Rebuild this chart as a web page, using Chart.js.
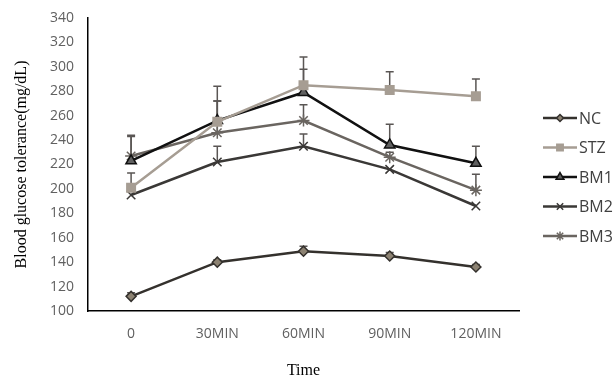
<!DOCTYPE html>
<html>
<head>
<meta charset="utf-8">
<script src="https://cdn.jsdelivr.net/npm/chart.js@4/dist/chart.umd.min.js"></script>
<style>
  html, body { margin: 0; padding: 0; background: #fff; }
  #wrap { width: 614px; height: 378px; }
</style>
</head>
<body>
<div id="wrap"><canvas id="chart" width="614" height="378"></canvas></div>
<script>
// data
var times = ["0", "30MIN", "60MIN", "90MIN", "120MIN"];
var yTicks = [100, 120, 140, 160, 180, 200, 220, 240, 260, 280, 300, 320, 340];

var nc  = [112, 140, 149, 145, 136];
var stz = [201, 255, 285, 281, 276];
var bm1 = [223, 256, 279, 236, 221];
var bm2 = [195, 222, 235, 216, 186];
var bm3 = [227, 246, 256, 226, 199];

// upward error (SD) for each point
var ncErr  = [3, 2, 4, 3, 2];
var stzErr = [12, 29, 23, 15, 14];
var bm1Err = [21, 16, 19, 17, 14];
var bm2Err = [0, 13, 10, 0, 0];
var bm3Err = [16, 26, 13, 4, 13];

function series(label, data, err, color, style, fill, radius) {
	return {
		label: label,
		data: data,
		err: err,
		borderColor: color,
		borderWidth: 2.5,
		pointStyle: style,
		pointRadius: radius,
		pointBackgroundColor: fill,
		pointBorderColor: style == 'rect' ? fill : color,
		pointBorderWidth: 1.5,
		tension: 0
	};
}

var sets = [
	series("NC", nc, ncErr, "#34312d", "rectRot", "#8c8272", 5),
	series("STZ", stz, stzErr, "#a69d93", "rect", "#a69d93", 6),
	series("BM1", bm1, bm1Err, "#111111", "triangle", "#606060", 6),
	series("BM2", bm2, bm2Err, "#3a3836", "crossRot", "#3a3836", 6),
	series("BM3", bm3, bm3Err, "#6a6560", "star", "#6a6560", 6)
];

// error bars, drawn under the markers
var errorBars = {
	id: 'errorBars',
	beforeDatasetsDraw: function(chart) {
		var ctx = chart.ctx;
		var ys = chart.scales.y;
		ctx.save();
		ctx.lineWidth = 1.5;
		ctx.strokeStyle = "#5a5654";
		chart.data.datasets.forEach(function(ds, i) {
			var meta = chart.getDatasetMeta(i);
			meta.data.forEach(function(pt, j) {
				var e = ds.err[j];
				if (!e) return;
				var top = ys.getPixelForValue(ds.data[j] + e);
				ctx.beginPath();
				ctx.moveTo(pt.x, pt.y);
				ctx.lineTo(pt.x, top);
				ctx.moveTo(pt.x - 4, top);
				ctx.lineTo(pt.x + 4, top);
				ctx.stroke();
			});
		});
		ctx.restore();
	}
};

// legend on the right: short line with the marker in the middle
var sideLegend = {
	id: 'sideLegend',
	afterDraw: function(chart) {
		var ctx = chart.ctx;
		var x0 = 543, x1 = 577, y = 118;
		ctx.save();
		chart.data.datasets.forEach(function(ds) {
			ctx.strokeStyle = ds.borderColor;
			ctx.lineWidth = 2.5;
			ctx.beginPath();
			ctx.moveTo(x0, y);
			ctx.lineTo(x1, y);
			ctx.stroke();
			ctx.fillStyle = ds.pointBackgroundColor;
			ctx.strokeStyle = ds.pointBorderColor;
			ctx.lineWidth = 1.5;
			Chart.helpers.drawPoint(ctx, {
				pointStyle: ds.pointStyle,
				radius: ds.pointRadius - 1.5,
				rotation: 0,
				borderWidth: 1.5
			}, (x0 + x1) / 2, y);
			ctx.fillStyle = "#404040";
			ctx.font = "16px 'Open Sans'";
			ctx.textBaseline = "middle";
			ctx.fillText(ds.label, x1 + 2, y + 1);
			y += 29.5;
		});
		ctx.restore();
	}
};

var chart = new Chart(document.getElementById("chart"), {
	type: 'line',
	data: { labels: times, datasets: sets },
	plugins: [errorBars, sideLegend],
	options: {
		responsive: false,
		animation: false,
		layout: { padding: { left: 0, right: 95, top: 18, bottom: 0 } },
		plugins: {
			legend: { display: false },
			tooltip: { enabled: false }
		},
		scales: {
			x: {
				offset: true,
				afterFit: function(scale) { scale.height = 67; },
				grid: { display: false, drawTicks: false },
				border: { display: true, color: "#000", width: 1.5 },
				ticks: { color: "#606060", font: { family: "'Open Sans'", size: 14 }, padding: 15, maxRotation: 0 },
				title: { display: true, text: "Time", color: "#000", font: { family: "'Liberation Serif'", size: 16 }, padding: { top: 4, bottom: -2 } }
			},
			y: {
				min: 100,
				max: 340,
				afterBuildTicks: function(scale) {
					scale.ticks = yTicks.map(function(v) { return { value: v }; });
				},
				afterFit: function(scale) {
					scale.width = 88;
					scale.paddingTop = 0;
					scale.paddingBottom = 0;
				},
				grid: { display: false, drawTicks: false },
				border: { display: true, color: "#000", width: 1.5 },
				ticks: { color: "#606060", font: { family: "'Open Sans'", size: 14 }, padding: 14 },
				title: { display: true, text: "Blood glucose tolerance(mg/dL)", color: "#000", font: { family: "'Liberation Serif'", size: 16 }, padding: { top: 12, bottom: 0 } }
			}
		}
	}
});
</script>
</body>
</html>
